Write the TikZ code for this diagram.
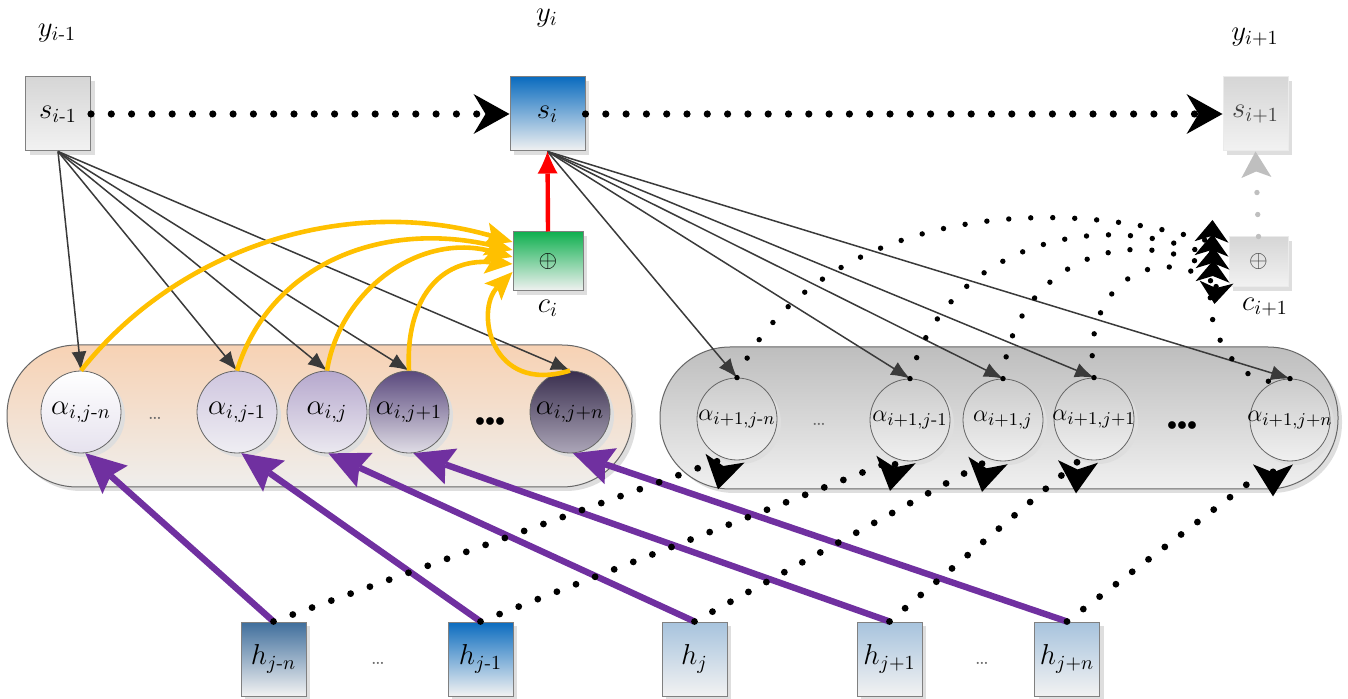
\documentclass[tikz,border=0pt]{standalone}
\usepackage{amsmath}
\usetikzlibrary{arrows.meta,shapes.geometric,shadows,calc}
\definecolor{purp}{HTML}{7030A0}
\definecolor{yel}{HTML}{FFC000}
\definecolor{sblue}{HTML}{0B6CBF}
\definecolor{hdark}{HTML}{3F6E9C}
\definecolor{hlight}{HTML}{A7C3DD}
\definecolor{grT}{HTML}{D6D6D6}
\definecolor{grB}{HTML}{F2F2F2}
\definecolor{greenT}{HTML}{10B050}
\definecolor{peachT}{HTML}{F7D2B4}
\definecolor{peachB}{HTML}{EFEEEC}
\definecolor{cgT}{HTML}{BEBEBE}
\definecolor{cgB}{HTML}{F0F0F0}
\definecolor{p1T}{HTML}{FFFFFF}\definecolor{p1B}{HTML}{E6E2EE}
\definecolor{p2T}{HTML}{CFC6DF}\definecolor{p2B}{HTML}{EFEEF3}
\definecolor{p3T}{HTML}{B6A8CD}\definecolor{p3B}{HTML}{EBE9F0}
\definecolor{p4T}{HTML}{5A497D}\definecolor{p4B}{HTML}{E0DDE6}
\definecolor{p5T}{HTML}{392E4E}\definecolor{p5B}{HTML}{ACA6B8}
\definecolor{lineg}{HTML}{3A3A3A}
\begin{document}
\begin{tikzpicture}[x=0.5pt,y=-0.5pt,
 shad/.style={drop shadow={shadow xshift=2pt,shadow yshift=-2pt,fill=black!13,opacity=1}},
 box/.style={shad, draw=black!50, line width=0.5pt, inner sep=0pt, minimum width=32.5pt, minimum height=37pt, font=\fontsize{14}{16}\selectfont},
 lbl/.style={font=\fontsize{14}{16}\selectfont, inner sep=1pt},
 al/.style={ellipse, shad, draw=black!60, line width=0.4pt, minimum width=40pt, minimum height=41pt, inner sep=0pt,
   label={[font=\fontsize{14.5}{16}\selectfont, inner sep=0pt]center:#1}},
 bl/.style={ellipse, shad, draw=black!60, line width=0.4pt, minimum width=40pt, minimum height=41pt, inner sep=0pt,
   top color=cgT!80, bottom color=cgB, label={[font=\fontsize{13}{15}\selectfont, inner sep=0pt]center:#1}},
 cont/.style={shad, draw=black!60, line width=0.5pt, rounded corners=35pt, minimum height=71pt, inner sep=0pt},
 blk/.style={draw=lineg, line width=0.75pt, -{Latex[length=9.5pt,width=7.5pt]}},
 yarr/.style={draw=yel, line width=2.3pt, -{Stealth[length=14pt,width=12pt,inset=3pt,line width=0pt]}},
 rarr/.style={draw=red, line width=2.2pt, -{Latex[length=11pt,width=10pt,line width=0pt]}},
 parr/.style={draw=purp, line width=3.2pt, -{Stealth[length=20pt,width=19pt,inset=3pt,line width=0pt]}},
 topdots/.style={line width=3.6pt, line cap=round, dash pattern=on 0pt off 10.15pt, -{Stealth[length=18pt,width=20pt,inset=6pt,line width=0pt]}},
 hdots/.style={line width=3.4pt, line cap=round, dash pattern=on 0pt off 10.25pt, -{Stealth[length=16pt,width=20pt,inset=4pt,line width=0pt]}},
 adots/.style={line width=2.7pt, line cap=round, dash pattern=on 0pt off 11pt, -{Stealth[length=11pt,width=17pt,inset=3pt,line width=0pt]}},
 gdots/.style={draw=black!25, line width=2.7pt, line cap=round, dash pattern=on 0pt off 11pt, -{Stealth[length=13pt,width=15pt,inset=3pt,line width=0pt]}},
 sdots/.style={font=\fontsize{11}{13}\selectfont, text=black!60, inner sep=0pt},
 bdots/.style={font=\fontsize{10}{12}\selectfont, inner sep=0pt}
]
\useasboundingbox (0,0) rectangle (1348,699);

% containers
\node[cont, minimum width=312.5pt, top color=peachT, bottom color=peachB] (L) at (319.5,416) {};
\node[cont, minimum width=339pt, top color=cgT, bottom color=cgB] (R) at (999,418) {};

% state boxes
\node[box, top color=grT, bottom color=grB] (sA) at (58,114) {$s_{i\text{-}1}$};
\node[box, minimum width=37.5pt, top color=sblue, bottom color=grB] (sB) at (547.5,114) {$s_i$};
\node[box, draw=black!8, top color=grT, bottom color=grB, text=black!75] (sC) at (1255.5,114) {$s_{i+1}$};
\node[box, minimum width=35pt, minimum height=29.5pt, top color=greenT, bottom color=grB, font=\fontsize{12}{14}\selectfont] (cA) at (548,261.5) {$\oplus$};
\node[box, draw=black!8, minimum width=29.5pt, minimum height=25pt, top color=grT, bottom color=grB, text=black!75, font=\fontsize{12}{14}\selectfont] (cB) at (1258.5,262) {$\oplus$};

% labels
\node[lbl] (yA) at (57,33) {$y_{i\text{-}1}$};
\node[lbl] (yB) at (547,18) {$y_i$};
\node[lbl] (yC) at (1255,37) {$y_{i+1}$};
\node[lbl] (cAl) at (548,308) {$c_i$};
\node[lbl] (cBl) at (1265,307) {$c_{i+1}$};

% h boxes
\node[box, top color=hdark, bottom color=grB] (h1) at (273.5,659) {$h_{j\text{-}n}$};
\node[box, top color=sblue, bottom color=grB] (h2) at (480.5,659) {$h_{j\text{-}1}$};
\node[box, top color=hlight, bottom color=grB] (h3) at (694.5,659) {$h_j$};
\node[box, top color=hlight, bottom color=grB] (h4) at (889.5,659) {$h_{j+1}$};
\node[box, top color=hlight, bottom color=grB] (h5) at (1067,659) {$h_{j+n}$};
\node[sdots] (hd1) at (378,663) {\dots};
\node[sdots] (hd2) at (982,663) {\dots};

% alpha circles (left)
\node[al={$\alpha_{i,j\text{-}n}$}, top color=p1T, bottom color=p1B] (a1) at (81,412) {};
\node[al={$\alpha_{i,j\text{-}1}$}, top color=p2T, bottom color=p2B] (a2) at (237,412) {};
\node[al={$\alpha_{i,j}$}, top color=p3T, bottom color=p3B] (a3) at (327,412) {};
\node[al={$\alpha_{i,j+1}$}, top color=p4T, bottom color=p4B] (a4) at (409,412) {};
\node[al={$\alpha_{i,j+n}$}, top color=p5T, bottom color=p5B] (a5) at (570,412) {};
\node[sdots] (ad1) at (155,418) {\dots};
\node[bdots] (ad2) at (490,422) {${\bullet}{\bullet}{\bullet}$};

% alpha circles (right)
\node[bl={$\alpha_{i+1,j\text{-}n}$}] (b1) at (737,419) {};
\node[bl={$\alpha_{i+1,j\text{-}1}$}] (b2) at (910,420) {};
\node[bl={$\alpha_{i+1,j}$}] (b3) at (1003,420) {};
\node[bl={$\alpha_{i+1,j+1}$}] (b4) at (1094,419) {};
\node[bl={$\alpha_{i+1,j+n}$}] (b5) at (1290,420) {};
\node[sdots] (bd1) at (819,424) {\dots};
\node[bdots] (bd2) at (1182,426) {${\bullet}{\bullet}{\bullet}$};

% black connectors
\foreach \t in {a1,a2,a3,a4,a5} \draw[blk] (sA.south) -- (\t.north);
\foreach \t in {b1,b2,b3,b4,b5} \draw[blk] (sB.south) -- (\t.north);

% yellow connectors
\draw[yarr] (a1.north) .. controls (180,245) and (350,195) .. ([yshift=9.75pt]cA.west);
\draw[yarr] (a2.north) .. controls (270,265) and (380,220) .. ([yshift=5.75pt]cA.west);
\draw[yarr] (a3.north) .. controls (340,290) and (420,232) .. ([yshift=2.25pt]cA.west);
\draw[yarr] (a4.north) .. controls (405,300) and (440,258) .. ([yshift=-1.25pt]cA.west);
\draw[yarr] (a5.north) .. controls (490,395) and (475,310) .. ([yshift=-5.25pt]cA.west);

% red
\draw[rarr] (cA.north) -- (sB.south);

% purple
\draw[parr] (h1.north) -- (a1.-84);
\draw[parr] (h2.north) -- (a2.-84);
\draw[parr] (h3.north) -- (a3.-88);
\draw[parr] (h4.north) -- (a4.-84);
\draw[parr] (h5.north) -- (a5.-86);

% dotted from h to right circles
\draw[hdots] (h1.north) -- ($(b1.south)+(-12,-2)$) -- ++(-7,31);
\draw[hdots] (h2.north) -- ($(b2.south)+(-14,-2)$) -- ++(-6,31.5);
\draw[hdots] (h3.north) -- ($(b3.south)+(-15,-1)$) -- ++(-6,31.5);
\draw[hdots] (h4.north) -- ($(b4.south)+(-16,1)$) -- ++(-2,32);
\draw[hdots] (h5.north) -- ($(b5.south)+(-17,3)$) -- ++(0,32);

% dotted arcs to c_{i+1}
\draw[adots] (b1.north) .. controls (800,240) and (1000,180) .. ($(cB.west)+(-17,-20)$) -- ++(1,-22);
\draw[adots] (b2.north) .. controls (940,260) and (1080,200) .. ($(cB.west)+(-17,-6)$) -- ++(1,-22);
\draw[adots] (b3.north) .. controls (1010,280) and (1110,215) .. ($(cB.west)+(-16,7)$) -- ++(1,-22);
\draw[adots] (b4.north) .. controls (1080,290) and (1150,240) .. ($(cB.west)+(-16,20)$) -- ++(1,-22);
\draw[adots] (b5.north) .. controls (1230,400) and (1195,300) .. ($(cB.west)+(-12,20)$) -- ++(-2,22);

% gray dotted
\draw[gdots] (cB.north) -- (sC.south);

% top dotted
\draw[topdots] (sA.east) -- (sB.west);
\draw[topdots] (sB.east) -- (sC.west);
\end{tikzpicture}
\end{document}
